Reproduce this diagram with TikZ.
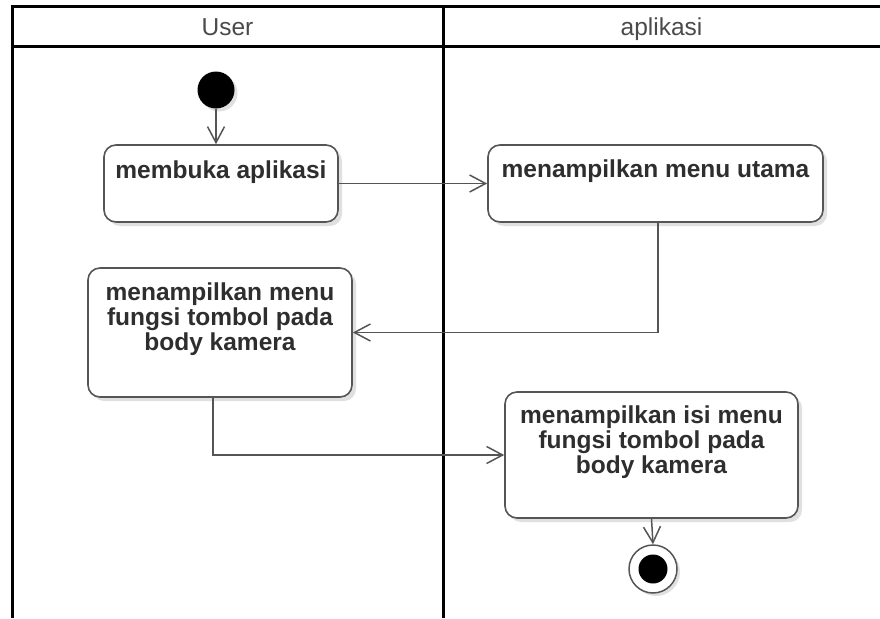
\documentclass[tikz,border=0pt]{standalone}
\usepackage{fontspec}
\setmainfont{Liberation Sans}
\usetikzlibrary{arrows.meta,shadows}
\definecolor{boxline}{HTML}{555555}
\definecolor{txt}{HTML}{2E2E2E}
\definecolor{hdr}{HTML}{4A4A4A}
\begin{document}
\begin{tikzpicture}[x=1pt,y=-1pt,
  lane/.style={line width=3pt,black},
  hdrtext/.style={font=\fontsize{24.5}{25}\selectfont,text=hdr,anchor=base,inner sep=0pt},
  actbox/.style={draw=boxline,line width=1.6pt,fill=white,rounded corners=12pt,inner sep=0pt,
    drop shadow={shadow xshift=4pt,shadow yshift=-4pt,opacity=0.12,fill=black}},
  acttext/.style={font=\bfseries\fontsize{24.5}{25}\selectfont,text=txt,align=center,anchor=base,inner sep=0pt},
  flow/.style={draw=boxline,line width=1.5pt,-{Straight Barb[length=16pt,width=17pt,line width=1.5pt]}},
  startnode/.style={circle,fill=black,minimum size=37pt,inner sep=0pt,
    drop shadow={shadow xshift=3pt,shadow yshift=-3pt,opacity=0.12,fill=black}},
  endnode/.style={circle,draw=boxline,line width=1.5pt,fill=white,minimum size=48pt,inner sep=0pt,
    drop shadow={shadow xshift=3pt,shadow yshift=-3pt,opacity=0.12,fill=black}},
]
\useasboundingbox (0,0) rectangle (880,618);
% swimlanes
\draw[lane] (12,618) -- (12,7) -- (880,7);
\draw[lane] (12,47) -- (880,47);
\draw[lane] (443,7) -- (443,618);
\node[hdrtext] (hUser) at (227.5,36) {User};
\node[hdrtext] (hApp) at (661.5,36) {aplikasi};
% nodes
\node[startnode] (start) at (216,90) {};
\node[actbox,minimum width=234pt,minimum height=77pt] (b1) at (221,183.5) {};
\node[acttext] (t1) at (221,178) {membuka aplikasi};
\node[actbox,minimum width=335pt,minimum height=77pt] (b2) at (655.5,183.5) {};
\node[acttext] (t2) at (655.5,177) {menampilkan menu utama};
\node[actbox,minimum width=264pt,minimum height=129pt] (b3) at (220,332.5) {};
\node[acttext] (t3) at (220,350) {menampilkan menu\\fungsi tombol pada\\body kamera};
\node[actbox,minimum width=293pt,minimum height=126pt] (b4) at (651.5,455) {};
\node[acttext] (t4) at (651.5,473) {menampilkan isi menu\\fungsi tombol pada\\body kamera};
\node[endnode] (end) at (653,569) {};
\fill[black] (end.center) circle (14.5pt);
% connectors
\draw[flow] (start.south) -- (start.south |- b1.north);
\draw[flow] (b1.east) -- (b2.west);
\coordinate (c2) at ([xshift=2.5pt]b2.south);
\draw[flow] (c2) -- (c2 |- b3.east) -- (b3.east);
\coordinate (c3) at ([xshift=-7pt]b3.south);
\draw[flow] (c3) -- (c3 |- b4.west) -- (b4.west);
\draw[flow] (b4.south) -- (end.north);
\end{tikzpicture}
\end{document}
